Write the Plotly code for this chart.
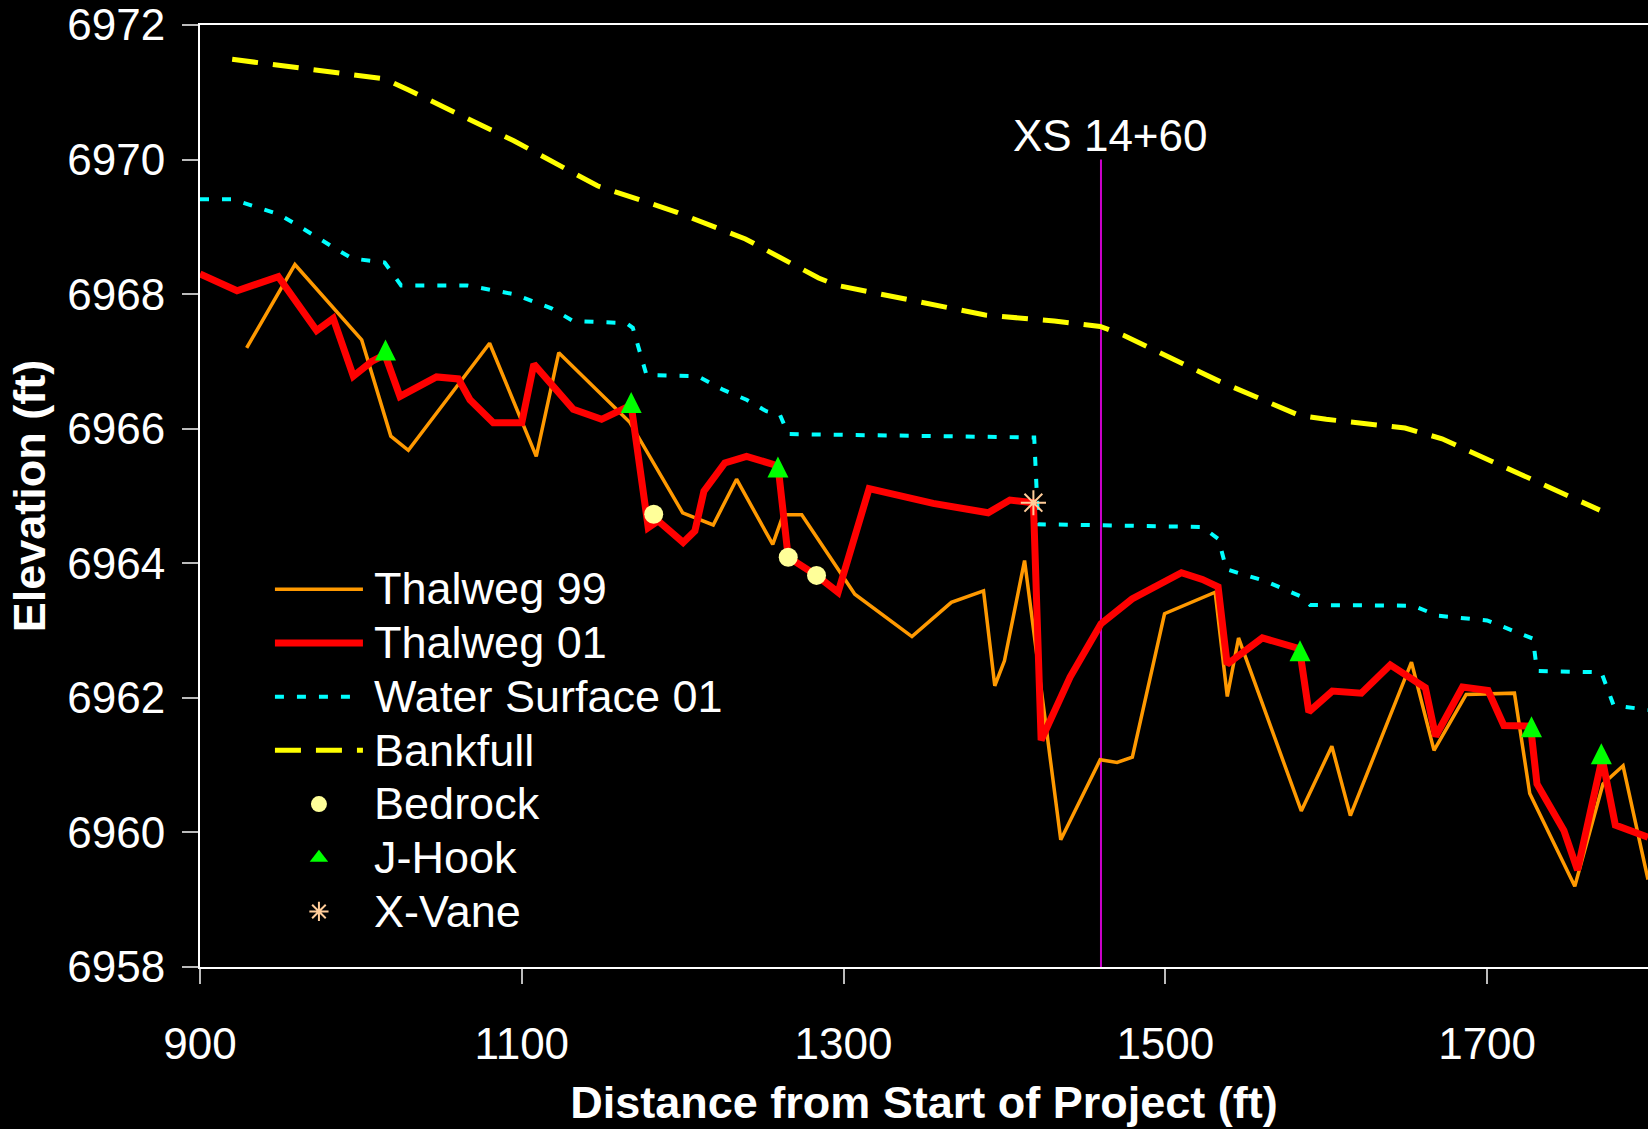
import plotly.graph_objects as go

# ---------------- data ----------------
t99_x = [929, 959, 1000.5, 1018.6, 1029.5, 1080, 1109, 1123, 1167, 1200, 1219, 1233.5, 1256,
         1262.5, 1274, 1307, 1342.5, 1367, 1387, 1394, 1400, 1412.5, 1435, 1459.5, 1470, 1479.5,
         1499.5, 1531, 1538.5, 1545.5, 1584.5, 1603.5, 1615, 1653, 1667, 1687, 1717, 1726.5,
         1754.5, 1772, 1784.5, 1800]
t99_y = [6967.2, 6968.44, 6967.32, 6965.89, 6965.68, 6967.27, 6965.59, 6967.13, 6966.1, 6964.75,
         6964.57, 6965.25, 6964.28, 6964.72, 6964.72, 6963.54, 6962.91, 6963.42, 6963.59, 6962.18,
         6962.55, 6964.04, 6959.89, 6961.08, 6961.04, 6961.12, 6963.25, 6963.57, 6962.02, 6962.89,
         6960.32, 6961.28, 6960.25, 6962.53, 6961.22, 6962.05, 6962.07, 6960.58, 6959.2, 6960.72,
         6960.99, 6959.3]

t01_x = [900, 923, 948.7, 972.5, 982.8, 995.3, 1006.7, 1015, 1024.3, 1047, 1060.6, 1067.8, 1082.3,
         1100, 1107.5, 1132, 1149.6, 1168, 1178.6, 1184.8, 1200.3, 1207.6, 1213.2, 1226.2, 1239.7,
         1256.3, 1259.4, 1265.6, 1283.2, 1296.6, 1315.9, 1355.7, 1389.9, 1403.4, 1418, 1422.8,
         1440.8, 1460, 1479.3, 1510, 1523, 1532.8, 1538.4, 1560.3, 1583.4, 1589.2, 1603.8, 1621.8,
         1639.8, 1661.6, 1668, 1684.7, 1700.6, 1710.4, 1727, 1731, 1747.7, 1756.2, 1771.5, 1779.7,
         1800]
t01_y = [6968.3, 6968.05, 6968.26, 6967.46, 6967.64, 6966.78, 6967.0, 6967.1, 6966.48, 6966.77,
         6966.74, 6966.43, 6966.09, 6966.09, 6966.96, 6966.29, 6966.14, 6966.35, 6964.53, 6964.63,
         6964.31, 6964.48, 6965.07, 6965.49, 6965.59, 6965.47, 6965.42, 6964.09, 6963.82, 6963.57,
         6965.11, 6964.89, 6964.75, 6964.94, 6964.9, 6961.37, 6962.31, 6963.1, 6963.47, 6963.86,
         6963.76, 6963.65, 6962.5, 6962.89, 6962.73, 6961.79, 6962.1, 6962.07, 6962.49, 6962.15,
         6961.43, 6962.16, 6962.11, 6961.59, 6961.58, 6960.72, 6960.03, 6959.44, 6961.1, 6960.11,
         6959.93]

ws_x = [900, 920, 948.8, 960.3, 983.2, 994.5, 1014.8, 1025, 1066, 1095, 1118.4, 1132, 1165, 1169,
        1177.5, 1209.5, 1225, 1239.7, 1252, 1260.4, 1265.6, 1405.3, 1418.5, 1421, 1523, 1533, 1538,
        1561.6, 1586, 1590, 1654, 1669.5, 1700, 1728.5, 1731, 1771, 1778.6, 1800]
ws_y = [6969.41, 6969.41, 6969.19, 6969.03, 6968.69, 6968.53, 6968.47, 6968.13, 6968.13, 6968.0,
        6967.79, 6967.6, 6967.57, 6967.5, 6966.8, 6966.78, 6966.58, 6966.43, 6966.26, 6966.21,
        6965.92, 6965.87, 6965.87, 6964.58, 6964.54, 6964.36, 6963.91, 6963.74, 6963.49, 6963.38,
        6963.37, 6963.22, 6963.15, 6962.88, 6962.4, 6962.38, 6961.89, 6961.82]

bf_x = [920, 1014.8, 1029, 1052, 1095, 1147, 1170, 1196, 1239, 1284.5, 1296, 1388, 1431, 1459.5,
        1474, 1534, 1583, 1600, 1649, 1672, 1721, 1770]
bf_y = [6971.49, 6971.2, 6971.04, 6970.78, 6970.28, 6969.61, 6969.43, 6969.22, 6968.82, 6968.24,
        6968.13, 6967.69, 6967.6, 6967.52, 6967.39, 6966.7, 6966.2, 6966.14, 6966.01, 6965.85,
        6965.32, 6964.79]

bedrock_x = [1182, 1265.6, 1283.2]
bedrock_y = [6964.73, 6964.09, 6963.82]

jhook_x = [1015.3, 1168, 1259.2, 1583.7, 1727.6, 1771]
jhook_y = [6967.17, 6966.39, 6965.43, 6962.70, 6961.57, 6961.17]

xvane_x = [1418]
xvane_y = [6964.9]

xs_station = 1460
xs_label = "XS 14+60"
xs_y = [6970, 6958]

x_ticks = [900, 1100, 1300, 1500, 1700]
y_ticks = [6958, 6960, 6962, 6964, 6966, 6968, 6970, 6972]

FONT = "Liberation Sans, Arial, sans-serif"


def lg(name):
    return ('<span style="font-size:22px">\u00a0</span>'
            '<span style="font-size:45px">' + name + '</span>')


fig = go.Figure()

# XS line
fig.add_trace(go.Scatter(x=[xs_station, xs_station], y=xs_y, mode="lines",
                         line=dict(color="#CC00CC", width=2), showlegend=False, hoverinfo="skip"))

fig.add_trace(go.Scatter(x=ws_x, y=ws_y, mode="lines", name=lg("Water Surface 01"), legendrank=3,
                         line=dict(color="#00FFFF", width=4, dash="9px,13px")))
fig.add_trace(go.Scatter(x=bf_x, y=bf_y, mode="lines", name=lg("Bankfull"), legendrank=4,
                         line=dict(color="#FFFF00", width=5, dash="26px,15px")))
fig.add_trace(go.Scatter(x=t99_x, y=t99_y, mode="lines", name=lg("Thalweg 99"), legendrank=1,
                         line=dict(color="#FF9900", width=3.5)))
fig.add_trace(go.Scatter(x=t01_x, y=t01_y, mode="lines", name=lg("Thalweg 01"), legendrank=2,
                         line=dict(color="#FF0000", width=7)))
fig.add_trace(go.Scatter(x=bedrock_x, y=bedrock_y, mode="markers", name=lg("Bedrock"), legendrank=5,
                         marker=dict(color="#FFFF99", size=19, symbol="circle")))
# J-Hook: plotted markers (centered, equal width/height triangle) + legend entry
fig.add_trace(go.Scatter(x=jhook_x, y=jhook_y, mode="markers", name="J-Hook", legendgroup="jhook",
                         showlegend=False,
                         marker=dict(color="#00FF00", size=21, symbol="arrow-down",
                                     angle=180, standoff=10.5)))
fig.add_trace(go.Scatter(x=[None], y=[None], mode="markers", name=lg("J-Hook"), legendrank=6,
                         legendgroup="jhook",
                         marker=dict(color="#00FF00", size=16, symbol="triangle-up")))
fig.add_trace(go.Scatter(x=xvane_x, y=xvane_y, mode="markers", name=lg("X-Vane"), legendrank=7,
                         marker=dict(color="#FFCC99", size=21, symbol="asterisk-open",
                                     line=dict(color="#FFCC99", width=2))))

fig.add_annotation(x=xs_station, y=xs_y[0], text=xs_label, showarrow=False, xanchor="center",
                   yanchor="bottom", xshift=10, yshift=-2,
                   font=dict(family=FONT, size=44, color="white"))

fig.update_layout(
    width=1648, height=1129,
    margin=dict(l=200, r=0, t=23, b=162),
    paper_bgcolor="black", plot_bgcolor="black",
    font=dict(family=FONT, color="white", size=44),
    showlegend=True,
    legend=dict(x=0.0483, y=0.4348, xanchor="left", yanchor="top", bgcolor="rgba(0,0,0,0)",
                font=dict(family=FONT, size=39, color="white"), itemwidth=88,
                traceorder="normal"),
    xaxis=dict(range=[900, 1800], tickvals=x_ticks, showgrid=False, zeroline=False,
               ticks="outside", ticklen=15, tickwidth=2, tickcolor="#BBBBBB",
               showline=True, linecolor="white", linewidth=2, mirror=True,
               tickfont=dict(family=FONT, size=44, color="white"), ticklabelstandoff=22,
               title=dict(text="Distance from Start of Project (ft)", standoff=20,
                          font=dict(family=FONT, size=45, color="white", weight="bold"))),
    yaxis=dict(range=[6958, 6972], tickvals=y_ticks, showgrid=False, zeroline=False,
               ticks="outside", ticklen=16, tickwidth=2, tickcolor="#BBBBBB",
               showline=True, linecolor="white", linewidth=2, ticklabeloverflow="allow",
               tickfont=dict(family=FONT, size=44, color="white"), ticklabelstandoff=8,
               title=dict(text="Elevation (ft)", standoff=8,
                          font=dict(family=FONT, size=45, color="white", weight="bold"))),
)

fig.write_html("out.html", config={"displayModeBar": False},
               post_script="document.body.style.margin='0';document.body.style.background='black';")
